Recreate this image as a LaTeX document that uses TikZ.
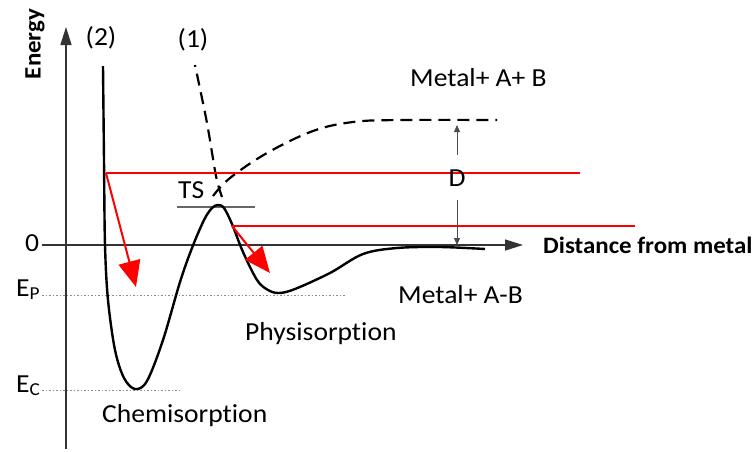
\documentclass[tikz,border=0pt]{standalone}
\usepackage{fontspec}
\setmainfont{Carlito}[FakeStretch=1.06, Ligatures=NoCommon]
\usetikzlibrary{arrows.meta}
\begin{document}
\begin{tikzpicture}[x=1pt,y=-1pt,
  txt/.style={inner sep=0pt, font=\fontsize{26}{26}\selectfont},
  bold/.style={inner sep=0pt, font=\fontsize{23.5}{23.5}\selectfont\bfseries},
  axis/.style={line width=1.4pt, draw=black!80, -{Triangle[length=18pt,width=11pt]}},
  curve/.style={line width=2.4pt, line join=round},
  dcurve/.style={line width=2.2pt, dash pattern=on 12pt off 7pt},
  redline/.style={line width=2pt, draw=red},
  redarrow/.style={line width=2pt, draw=red, -{Triangle[length=26pt,width=22pt,fill=red]}},
  level/.style={line width=0.9pt, draw=black!45, dash pattern=on 1.5pt off 2pt},
  darrow/.style={line width=0.8pt, draw=black!70, -{Triangle[length=7pt,width=6pt]}}]
\useasboundingbox (0,0) rectangle (753,451);

% axes
\coordinate (yb) at (66,449);
\coordinate (yt) at (66,27);
\coordinate (xl) at (42,245);
\coordinate (xr) at (523,245);
\draw[axis] (yb) -- (yt);
\draw[axis] (xl) -- (xr);
\node[bold, rotate=90] (energy) at (35,44) {Energy};
\node[bold, anchor=base west] (dist) at (543,253) {Distance from metal};
\node[txt] (zero) at (32,243) {0};

% energy levels
\coordinate (ep0) at (42,295);
\coordinate (ep1) at (345,295);
\coordinate (ec0) at (42,390);
\coordinate (ec1) at (180,390);
\draw[level] (ep0) -- (ep1);
\draw[level] (ec0) -- (ec1);
\node[txt, anchor=base west] (EP) at (16,296) {E\textsubscript{P}};
\node[txt, anchor=base west] (EC) at (16,392) {E\textsubscript{C}};

% TS line
\coordinate (ts0) at (177,207);
\coordinate (ts1) at (255,207);
\draw[line width=1.3pt, draw=black!60] (ts0) -- (ts1);
\node[txt, anchor=base west] (TS) at (178,198) {TS};

% curve (2)
\draw[curve] plot[smooth, tension=0.55] coordinates {
 (103,66) (104,160) (105,245) (108,300) (115,350) (124,378) (135,389)
 (147,381) (163,340) (180,282) (192,248) (204,220) (212,208) (218,205)
 (224,208) (232,224) (243,252) (257,280) (268,290) (279,293) (295,289)
 (330,273) (363,254) (397,248) (440,247) (485,249)};
\node[txt] (lab2) at (101,38) {(2)};

% dashed curve (1), drawn from the crossing upwards
\draw[dcurve] plot[smooth] coordinates {(222,197) (216,176) (207,123) (195,65)};
\node[txt] (lab1) at (193,40) {(1)};

% dashed Morse curve for A+B
\draw[dcurve] plot[smooth, tension=0.6] coordinates {
 (213,196) (230,178) (267,153) (313,131) (353,122) (400,120) (497,120)};

% red lines and arrows
\coordinate (r1a) at (106,173);
\coordinate (r1b) at (580,173);
\coordinate (r1t) at (136,287);
\coordinate (r2a) at (232,226);
\coordinate (r2b) at (635,226);
\coordinate (r2t) at (270,273);
\draw[redline] (r1a) -- (r1b);
\draw[redline] (r2a) -- (r2b);
\draw[redarrow] (r1a) -- (r1t);
\draw[redarrow] (r2a) -- (r2t);

% D arrows
\node[txt] (D) at (457,178) {D};
\coordinate (du) at (457,125);
\coordinate (dd) at (457,245);
\draw[darrow] (457,155) -- (du);
\draw[darrow] (457,200) -- (dd);

% labels
\node[txt, anchor=base west] (mab) at (410,86) {Metal+ A+ B};
\node[txt, anchor=base west] (mamb) at (398,303) {Metal+ A-B};
\node[txt, anchor=base west] (phys) at (245,340) {Physisorption};
\node[txt, anchor=base west] (chem) at (102,422) {Chemisorption};
\end{tikzpicture}
\end{document}
